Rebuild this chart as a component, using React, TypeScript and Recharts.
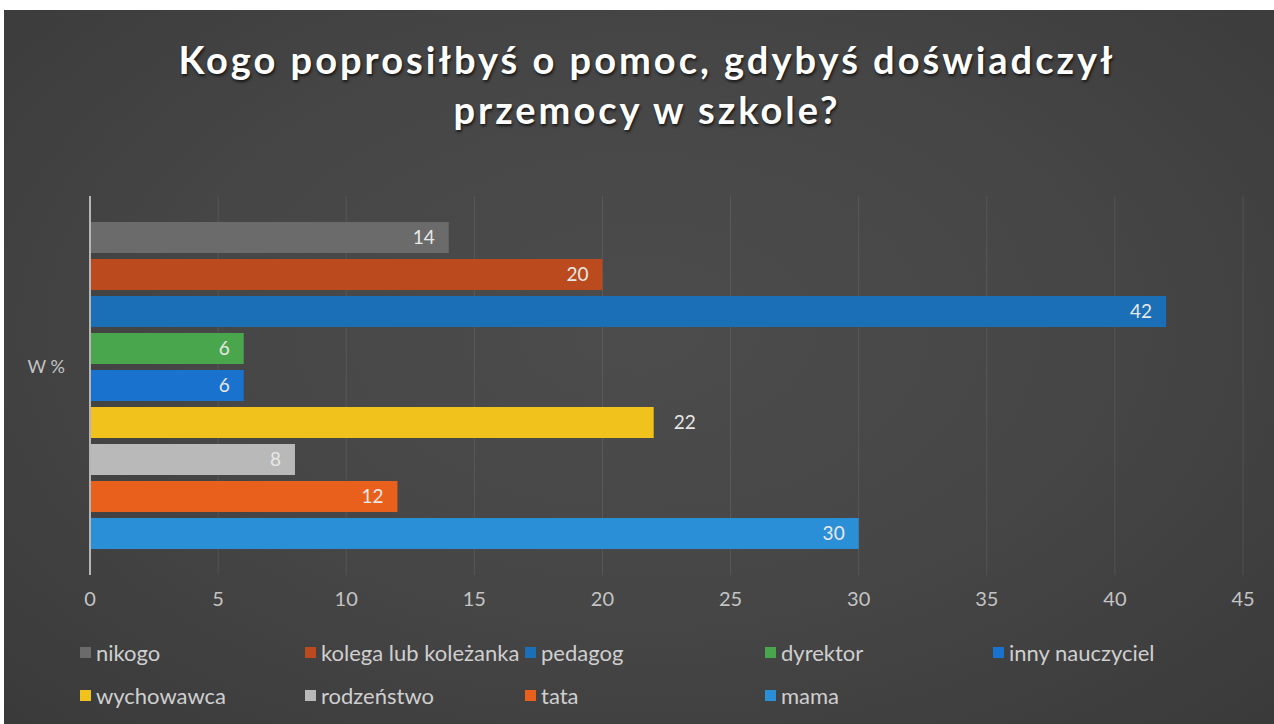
import React from "react";
import {
  BarChart,
  Bar,
  XAxis,
  YAxis,
  CartesianGrid,
  LabelList,
} from "recharts";

// kategorie (serie) i wartości w %
const SERIES = [
  "nikogo",
  "kolega lub koleżanka",
  "pedagog",
  "dyrektor",
  "inny nauczyciel",
  "wychowawca",
  "rodzeństwo",
  "tata",
  "mama",
];
const VALUES = [14, 20, 42, 6, 6, 22, 8, 12, 30];
const COLORS = [
  "#6b6b6b",
  "#bb4a1e",
  "#1b6fb6",
  "#4aa64c",
  "#1a72cf",
  "#f1c21c",
  "#b9b9b9",
  "#e9601d",
  "#2b8fd8",
];
const CATEGORY = "W %";
const X_TICKS = [0, 5, 10, 15, 20, 25, 30, 35, 40, 45];

const TITLE = ["Kogo poprosiłbyś o pomoc, gdybyś doświadczył", "przemocy w szkole?"];

// układ legendy (kolumny w px)
const LEGEND_COLS = [80, 305, 525, 765, 993];
const LEGEND_ROWS = [652, 695];

const row: Record<string, string | number> = { name: CATEGORY };
SERIES.forEach((s, i) => {
  row[s] = VALUES[i];
});
const data = [row];

const FONT = "Lato, 'Open Sans', sans-serif";

export default function App() {
  return (
    <div
      style={{
        position: "fixed",
        left: 0,
        top: 0,
        width: 1274,
        height: 724,
        background: "#ffffff",
        overflow: "hidden",
        fontFamily: FONT,
      }}
    >
      <div
        style={{
          position: "absolute",
          left: 4,
          top: 10,
          right: 0,
          bottom: 0,
          background:
            "radial-gradient(ellipse at 50% 45%, #4c4c4c 0%, #464646 50%, #3a3a3a 100%)",
        }}
      />
      <div
        style={{
          position: "absolute",
          top: 34,
          left: 0,
          width: 1294,
          textAlign: "center",
          color: "#ffffff",
          fontWeight: 700,
          fontSize: 38,
          lineHeight: "50px",
          letterSpacing: 3,
          textShadow: "1px 2px 3px rgba(0,0,0,0.7)",
        }}
      >
        {TITLE.map((t) => (
          <div key={t}>{t}</div>
        ))}
      </div>
      <div style={{ position: "absolute", left: 0, top: 0 }}>
        <BarChart
          width={1274}
          height={724}
          data={data}
          layout="vertical"
          margin={{ top: 196, right: 31, bottom: 0, left: 10 }}
          barSize={31}
          barGap={6}
        >
          <CartesianGrid
            horizontal={false}
            stroke="rgba(255,255,255,0.09)"
            strokeWidth={1}
          />
          <XAxis
            type="number"
            domain={[0, 45]}
            ticks={X_TICKS}
            axisLine={false}
            tickLine={false}
            tickSize={0}
            tickMargin={17}
            height={149}
            tick={{ fill: "#c4c4c4", fontSize: 20, fontFamily: FONT }}
          />
          <YAxis
            type="category"
            dataKey="name"
            width={80}
            axisLine={{ stroke: "#b5b5b5", strokeWidth: 2 }}
            tickLine={false}
            tickSize={0}
            tickMargin={25}
            tick={{ fill: "#c4c4c4", fontSize: 18, fontFamily: FONT, dy: -19 }}
          />
          {SERIES.map((s, i) => (
            <Bar
              key={s}
              dataKey={s}
              fill={COLORS[i]}
              isAnimationActive={false}
            >
              <LabelList
                dataKey={s}
                position={s === "wychowawca" ? "right" : "insideRight"}
                offset={s === "wychowawca" ? 20 : 14}
                fill="#e8e8e8"
                fontSize={19}
                fontFamily={FONT}
              />
            </Bar>
          ))}
        </BarChart>
      </div>
      {SERIES.map((s, i) => {
        const r = i < LEGEND_COLS.length ? 0 : 1;
        const c = r === 0 ? i : i - LEGEND_COLS.length;
        return (
          <div
            key={s}
            style={{
              position: "absolute",
              left: LEGEND_COLS[c],
              top: LEGEND_ROWS[r] - 14,
              height: 28,
              display: "flex",
              alignItems: "center",
              color: "#cfcfcf",
              fontSize: 22,
              whiteSpace: "nowrap",
            }}
          >
            <span
              style={{
                display: "inline-block",
                width: 11,
                height: 11,
                background: COLORS[i],
                marginRight: 5,
              }}
            />
            {s}
          </div>
        );
      })}
    </div>
  );
}
